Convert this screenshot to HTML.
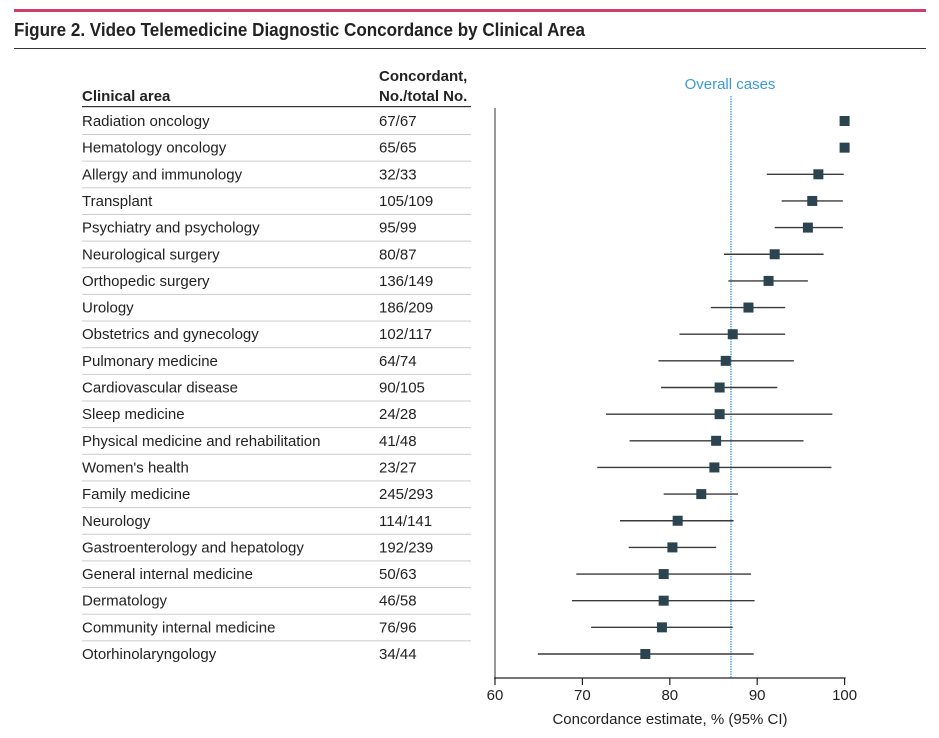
<!DOCTYPE html>
<html><head><meta charset="utf-8"><style>
html,body{margin:0;padding:0;background:#fff;}
svg{display:block;font-family:"Liberation Sans",sans-serif;}
</style></head><body>
<svg id="fig" width="939" height="738" viewBox="0 0 939 738">
<rect x="14" y="9" width="912" height="3" fill="#cf3e6a"/>
<text x="14" y="36" font-size="18" font-weight="bold" fill="#222" textLength="571" lengthAdjust="spacingAndGlyphs">Figure 2. Video Telemedicine Diagnostic Concordance by Clinical Area</text>
<rect x="14" y="48" width="912" height="1" fill="#333"/>
<text x="82" y="101" font-size="15" font-weight="bold" fill="#222">Clinical area</text>
<text x="379" y="81" font-size="15" font-weight="bold" fill="#222">Concordant,</text>
<text x="379" y="101" font-size="15" font-weight="bold" fill="#222">No./total No.</text>
<rect x="82" y="106" width="389" height="1.2" fill="#333"/>
<text x="730" y="89" font-size="15" fill="#3a9ad9" text-anchor="middle">Overall cases</text>
<g id="rows"></g>
<g id="plot"></g>
</svg>
<script>
const categories=["Radiation oncology","Hematology oncology","Allergy and immunology","Transplant","Psychiatry and psychology","Neurological surgery","Orthopedic surgery","Urology","Obstetrics and gynecology","Pulmonary medicine","Cardiovascular disease","Sleep medicine","Physical medicine and rehabilitation","Women's health","Family medicine","Neurology","Gastroenterology and hepatology","General internal medicine","Dermatology","Community internal medicine","Otorhinolaryngology"];
const counts=["67/67","65/65","32/33","105/109","95/99","80/87","136/149","186/209","102/117","64/74","90/105","24/28","41/48","23/27","245/293","114/141","192/239","50/63","46/58","76/96","34/44"];
const estimates=[100,100,97.0,96.3,95.8,92.0,91.3,89.0,87.2,86.4,85.7,85.7,85.3,85.1,83.6,80.9,80.3,79.3,79.3,79.1,77.2];
const lower=[null,null,91.1,92.8,92.0,86.2,86.7,84.7,81.1,78.7,79.0,72.7,75.4,71.7,79.3,74.3,75.3,69.3,68.8,71.0,64.9];
const upper=[null,null,99.9,99.8,99.8,97.6,95.8,93.2,93.2,94.2,92.3,98.6,95.3,98.5,87.8,87.3,85.3,89.3,89.7,87.2,89.6];
const overall=87.0;
const ticks=[60,70,80,90,100];
const NS="http://www.w3.org/2000/svg";
const x=v=>495+(v-60)*8.74;
const y=i=>121+i*26.65;
function mk(tag,attrs,parent,txt){const e=document.createElementNS(NS,tag);for(const k in attrs)e.setAttribute(k,attrs[k]);if(txt!=null)e.textContent=txt;parent.appendChild(e);return e;}
const rows=document.getElementById('rows'),plot=document.getElementById('plot');
categories.forEach((c,i)=>{
  const t=mk('text',{x:82,y:y(i)+5,'font-size':15,fill:'#222'},rows,c);
  
  
  const n=mk('text',{x:379,y:y(i)+5,'font-size':15,fill:'#222'},rows,counts[i]);
  
  
  if(i<categories.length-1){
    const l=mk('rect',{x:82,y:y(i)+13,width:389,height:1,fill:'#ccc'},rows);
    
    
  }
});
const ax=mk('line',{x1:495,y1:108,x2:495,y2:678,stroke:'#777','stroke-width':1.5},plot);


const xa=mk('line',{x1:494,y1:678,x2:x(100)+1,y2:678,stroke:'#222','stroke-width':1.2},plot);


ticks.forEach(v=>{
  const tk=mk('line',{x1:x(v),y1:678,x2:x(v),y2:685,stroke:'#222','stroke-width':1.2},plot);
  
  
  const tl=mk('text',{x:x(v),y:700,'font-size':15,fill:'#222','text-anchor':'middle'},plot,String(v));
  
  
});
const xt=mk('text',{x:670,y:724,'font-size':15,fill:'#222','text-anchor':'middle'},plot,'Concordance estimate, % (95% CI)');


const ov=mk('line',{x1:x(overall),y1:96,x2:x(overall),y2:678,stroke:'#3a9ad9','stroke-width':1.3,'stroke-dasharray':'1.5,1'},plot);


estimates.forEach((e,i)=>{
  if(lower[i]!=null){
    const ci=mk('line',{x1:x(lower[i]),y1:y(i),x2:x(upper[i]),y2:y(i),stroke:'#3a3a3a','stroke-width':1.4},plot);
    
    
  }
  const p=mk('rect',{x:x(e)-5,y:y(i)-5,width:10,height:10,fill:'#2c4450'},plot);
  
  
});
</script>
</body></html>
